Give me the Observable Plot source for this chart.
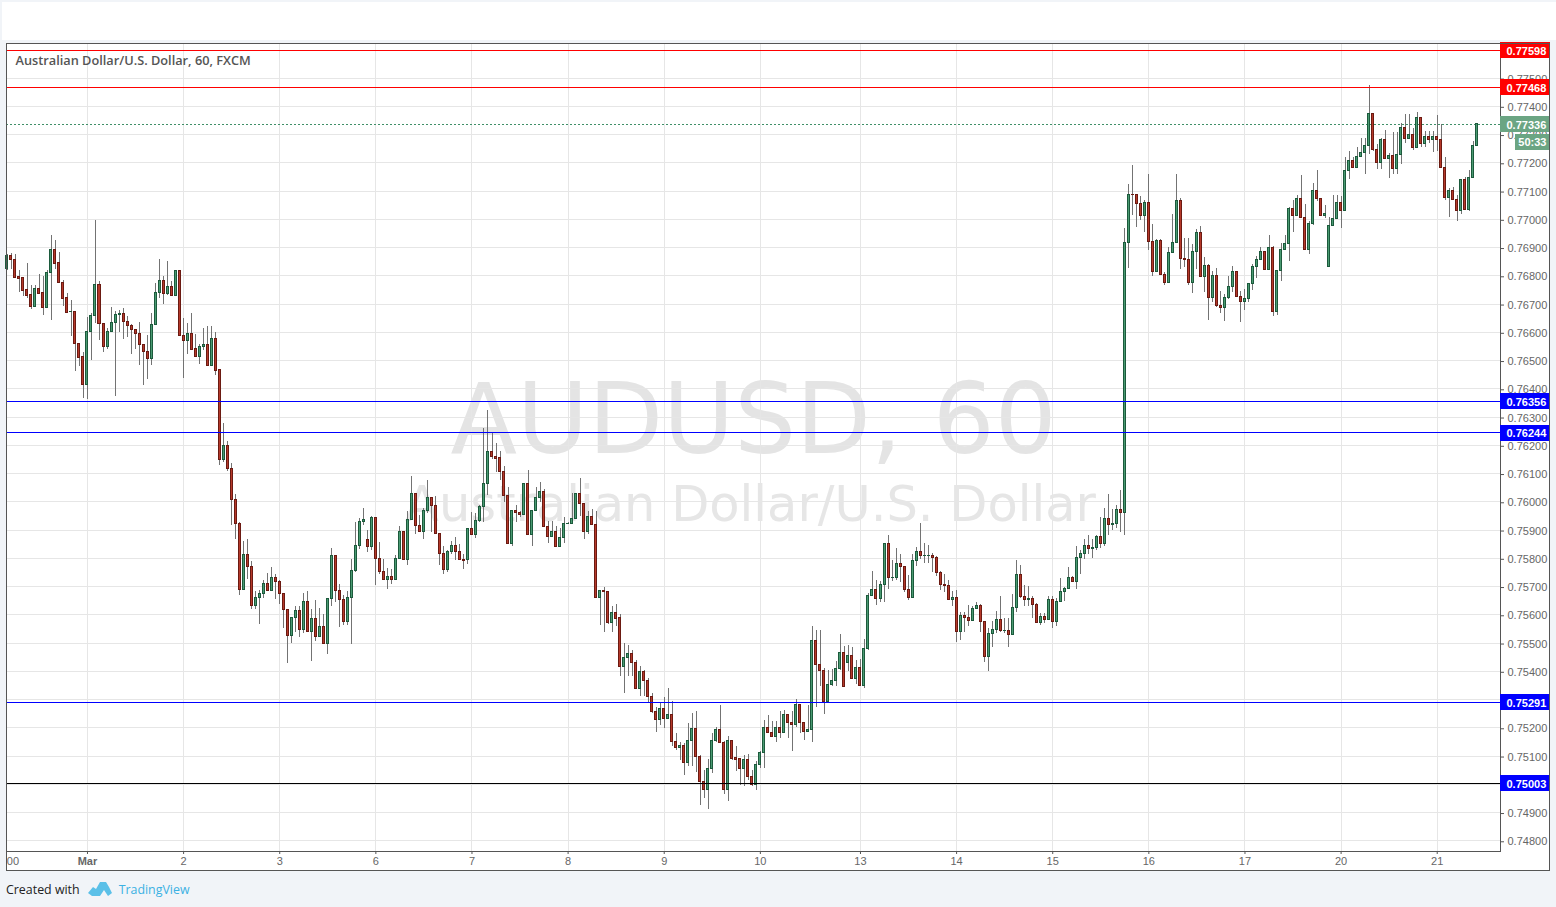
<!DOCTYPE html>
<html><head><meta charset="utf-8">
<script src="https://cdn.jsdelivr.net/npm/d3@7"></script>
<script src="https://cdn.jsdelivr.net/npm/@observablehq/plot@0.6"></script>
<style>
html,body{margin:0;padding:0;background:#f1f4f8;width:1556px;height:907px;overflow:hidden}
#band{position:absolute;left:2px;top:2px;width:1554px;height:38px;background:#fff}
#box{position:absolute;left:6px;top:43px;width:1544px;height:828px;background:#fff;outline:1px solid #555;outline-offset:-1px}
#box svg{display:block;background:transparent}
#foot{position:absolute;left:6px;top:880px;font:12.4px "Open Sans",sans-serif;color:#222;display:flex;align-items:center;height:18px;white-space:nowrap}
#foot svg{margin:0 7px 0 8px}
#foot a{color:#3bb1e3;text-decoration:none}
</style></head><body>
<div id="band"></div><div id="box"></div>
<div id="foot">Created with<svg width="24" height="16" viewBox="0 0 24 16"><path d="M0 12 L5 6 L8 8 L12 1 L18 1 L21 6 L24 12 L20 15 L16 9 L12 15 L4 15 Z" fill="#5bc0e8"/></svg><a>TradingView</a></div>
<script>
const opens=[76825,76869,76855,76795,76791,76748,76731,76691,76753,76738,
76687,76809,76893,76844,76773,76720,76671,76671,76557,76511,
76415,76600,76657,76766,76628,76547,76600,76632,76660,76664,
76635,76621,76607,76593,76554,76529,76504,76625,76738,76780,
76734,76759,76727,76816,76586,76568,76593,76540,76514,76547,
76554,76482,76575,76466,76147,76197,76116,76006,75921,75687,
75812,75769,75630,75660,75674,75709,75683,75730,75716,75673,
75617,75524,75589,75614,75546,75645,75539,75585,75522,75557,
75497,75656,75808,75684,75652,75573,75660,75755,75843,75928,
75865,75839,75942,75797,75752,75722,75735,75722,75797,75893,
75793,75935,76027,75914,75893,75967,76013,75985,75886,75815,
75759,75822,75843,75822,75794,75793,75903,75882,75932,75981,
76063,76176,76158,76155,76105,76020,75850,75967,75960,75952,
76063,75882,75967,76013,76034,75911,75875,75893,75840,75872,
75921,75921,75939,76027,75992,75893,75946,75918,75658,75686,
75679,75572,75608,75587,75416,75446,75460,75431,75336,75396,
75364,75308,75255,75226,75265,75230,75244,75148,75127,75134,
75074,75152,75194,75095,75007,74979,75053,75152,75191,75145,
74979,75152,75092,75088,75053,75085,75025,74996,75067,75110,
75198,75180,75166,75201,75180,75244,75216,75209,75279,75216,
75186,75191,75506,75424,75400,75293,75352,75366,75409,75465,
75431,75455,75373,75412,75347,75480,75667,75688,75656,75706,
75851,75730,75731,75780,75770,75688,75660,75791,75823,75808,
75808,75808,75801,75748,75706,75702,75653,75660,75540,75596,
75589,75579,75621,75632,75575,75451,75533,75547,75582,75543,
75543,75529,75625,75741,75663,75653,75656,75635,75571,75592,
75580,75652,75573,75645,75681,75691,75730,75715,75801,75815,
75843,75833,75836,75875,75850,75939,75918,75921,75971,75960,
76917,77087,77087,77055,77012,77059,76921,76815,76924,76804,
76776,76882,76917,77066,76861,76857,76776,76885,76953,76797,
76836,76723,76801,76694,76687,76723,76762,76815,76726,76709,
76719,76772,76832,76857,76885,76822,76900,76673,76818,76893,
76914,77037,77013,77073,77006,76893,76984,77101,77073,77013,
76832,76975,77000,77056,77030,77171,77208,77182,77219,77233,
77261,77371,77247,77198,77279,77212,77223,77177,77226,77322,
77286,77297,77251,77357,77268,77293,77279,77290,77279,77180,
77074,77099,77067,77028,77138,77034,77145,77261];
const closes=[76870,76855,76793,76790,76747,76730,76691,76753,76737,76687,
76809,76893,76843,76773,76719,76670,76673,76557,76510,76415,
76600,76657,76766,76628,76547,76600,76632,76660,76664,76635,
76621,76607,76593,76554,76529,76504,76625,76738,76780,76734,
76759,76727,76816,76586,76568,76593,76539,76514,76547,76554,
76482,76575,76464,76147,76197,76116,76006,75921,75687,75812,
75769,75630,75660,75674,75709,75683,75730,75715,75672,75616,
75524,75589,75614,75546,75645,75539,75585,75522,75557,75497,
75656,75808,75683,75652,75573,75660,75755,75843,75928,75935,
75840,75942,75797,75752,75722,75735,75722,75797,75893,75793,
75935,76027,75914,75893,75967,76013,75985,75886,75815,75759,
75822,75843,75821,75793,75791,75903,75882,75932,75981,76063,
76176,76158,76153,76104,76019,75850,75967,75959,75952,76063,
75882,75967,76013,76034,75911,75875,75893,75840,75872,75921,
75923,75939,76027,75992,75893,75946,75918,75658,75686,75679,
75572,75608,75586,75416,75446,75460,75431,75336,75396,75364,
75308,75255,75226,75265,75230,75244,75148,75127,75134,75074,
75152,75194,75095,75007,74979,75053,75152,75191,75145,74979,
75152,75091,75087,75053,75085,75025,74996,75067,75110,75198,
75180,75166,75201,75180,75244,75216,75209,75279,75216,75186,
75191,75506,75424,75400,75293,75352,75366,75409,75465,75345,
75455,75373,75412,75347,75480,75667,75688,75656,75706,75851,
75730,75731,75780,75770,75688,75660,75791,75823,75808,75809,
75809,75801,75748,75706,75701,75653,75660,75540,75596,75588,
75579,75621,75632,75575,75451,75533,75547,75582,75543,75544,
75529,75625,75741,75663,75653,75656,75635,75571,75592,75580,
75652,75573,75645,75681,75691,75730,75715,75801,75815,75843,
75833,75836,75875,75850,75939,75918,75921,75971,75960,76917,
77087,77085,77055,77012,77059,76921,76815,76924,76804,76776,
76882,76917,77066,76861,76857,76776,76885,76953,76797,76836,
76723,76801,76694,76687,76723,76762,76815,76726,76709,76719,
76772,76832,76857,76885,76822,76900,76673,76818,76893,76914,
77037,77013,77073,77006,76893,76984,77101,77073,77013,77020,
76975,77000,77056,77030,77171,77208,77182,77219,77233,77261,
77371,77247,77198,77279,77212,77223,77177,77226,77322,77286,
77297,77251,77357,77268,77293,77279,77290,77279,77180,77074,
77099,77067,77028,77138,77034,77145,77261,77336];
const highs=[76875,76880,76877,76818,76791,76845,76767,76767,76806,76796,
76817,76941,76926,76884,76785,76736,76714,76671,76557,76530,
76652,76668,76994,76781,76628,76614,76688,76672,76678,76685,
76656,76628,76611,76635,76554,76587,76668,76771,76858,76796,
76852,76781,76816,76816,76649,76632,76668,76591,76557,76612,
76619,76619,76598,76466,76278,76215,76137,76025,75925,75858,
75868,75787,75682,75685,75720,75745,75766,75741,75723,75677,
75617,75592,75628,75628,75674,75681,75617,75650,75621,75601,
75656,75836,75808,75709,75670,75684,75794,75928,75942,75978,
75898,75947,75942,75857,75794,75763,75762,75810,75914,75896,
75967,76091,76031,75953,75978,76077,76013,76017,75886,75841,
75829,75860,75872,75848,75813,75907,75962,75960,75986,76261,
76322,76247,76208,76179,76126,76052,75967,75988,75967,76066,
76111,75967,76049,76070,76045,75932,75930,75911,75904,75946,
75925,76031,76030,76084,75992,75967,75974,75967,75687,75697,
75679,75631,75638,75601,75499,75493,75474,75438,75417,75404,
75375,75322,75272,75290,75308,75339,75293,75180,75148,75145,
75216,75251,75258,75102,75049,75088,75180,75202,75279,75152,
75170,75152,75134,75088,75102,75106,75049,75081,75117,75226,
75242,75223,75223,75259,75262,75248,75258,75301,75283,75216,
75279,75559,75543,75546,75410,75404,75406,75435,75529,75488,
75490,75483,75437,75441,75511,75674,75755,75720,75717,75854,
75879,75791,75833,75812,75770,75738,75812,75837,75922,75854,
75847,75816,75805,75752,75741,75720,75681,75685,75607,75607,
75633,75628,75642,75636,75575,75550,75575,75610,75663,75586,
75586,75671,75791,75774,75702,75699,75663,75639,75603,75603,
75663,75663,75659,75727,75698,75769,75737,75841,75829,75865,
75880,75868,75882,75946,75978,76027,75971,75988,76041,76967,
77124,77191,77087,77080,77066,77159,76981,76928,76928,76811,
76900,77016,77159,77073,76931,76931,76910,76963,76974,76864,
76839,76815,76825,76744,76733,76797,76832,76815,76744,76751,
76772,76839,76868,76900,76885,76942,76903,76818,76914,76942,
77041,77066,77084,77155,77052,76992,77127,77173,77073,77048,
77007,77085,77085,77080,77219,77241,77219,77254,77286,77286,
77475,77371,77265,77286,77316,77233,77307,77307,77339,77371,
77371,77322,77378,77357,77311,77311,77311,77368,77336,77219,
77109,77113,77085,77138,77148,77173,77275,77336];
const lows=[76820,76822,76793,76740,76726,76719,76680,76691,76737,76659,
76687,76641,76822,76773,76693,76666,76585,76461,76478,76365,
76362,76500,76631,76570,76528,76539,76600,76372,76601,76574,
76581,76521,76539,76482,76411,76432,76482,76625,76720,76698,
76731,76727,76727,76586,76436,76522,76535,76514,76486,76534,
76482,76482,76447,76128,76138,76109,75917,75868,75669,75687,
75724,75619,75619,75566,75657,75681,75681,75654,75637,75552,
75428,75499,75538,75520,75534,75539,75435,75506,75522,75497,
75460,75628,75642,75556,75563,75563,75496,75748,75832,75915,
75821,75828,75704,75741,75722,75690,75708,75722,75797,75793,
75775,75935,75886,75893,75866,75960,75893,75886,75775,75744,
75748,75815,75792,75793,75761,75777,75882,75869,75925,75925,
76023,76151,76104,76076,75996,75850,75840,75928,75945,75952,
75882,75842,75967,75996,75911,75852,75875,75840,75840,75854,
75919,75921,75939,75948,75868,75886,75918,75658,75561,75536,
75566,75539,75558,75383,75321,75383,75383,75336,75312,75312,
75290,75251,75184,75209,75198,75230,75133,75120,75085,75031,
75064,75064,75041,74924,74949,74911,75039,75148,75145,74965,
74939,75085,75046,74996,74993,75014,74993,74979,75056,75056,
75180,75166,75148,75163,75180,75163,75115,75202,75180,75155,
75184,75148,75272,75345,75248,75290,75347,75347,75404,75345,
75398,75373,75355,75347,75340,75472,75663,75634,75642,75645,
75691,75719,75720,75713,75678,75649,75660,75770,75794,75780,
75780,75748,75734,75685,75678,75653,75630,75501,75508,75536,
75560,75579,75621,75538,75432,75401,75483,75533,75536,75533,
75485,75526,75607,75656,75628,75630,75587,75571,75563,75568,
75580,75550,75559,75645,75648,75688,75715,75688,75743,75794,
75815,75799,75828,75836,75843,75882,75899,75907,75893,75881,
76825,77012,76970,76995,76955,76888,76798,76815,76804,76764,
76776,76882,76917,76821,76828,76764,76737,76821,76797,76740,
76641,76705,76689,76666,76637,76716,76740,76726,76634,76676,
76705,76747,76790,76857,76818,76822,76656,76659,76779,76893,
76849,76953,77013,77006,76889,76875,76977,77062,77013,77004,
76832,76975,77000,76966,77030,77141,77182,77179,77219,77159,
77230,77240,77177,77177,77212,77145,77159,77159,77194,77268,
77286,77244,77251,77254,77254,77268,77237,77240,77180,77067,
77007,77067,76993,77017,77032,77028,77145,77261];

const firstHour=-20;               // hours relative to 1 March 00:00
const dayHours=[0,24,48,72,96,120,144,168,193,217,241,265,289,313,337];
const dayLabels=["Mar","2","3","6","7","8","9","10","13","14","15","16","17","20","21"];
const priceTicks=d3.range(74800,77501,100);
const levelPrices=[77598,77468,76356,76244,75291,75003];
const levelLines=["#ff0000","#ff0000","#0000ff","#0000ff","#0000ff","#000000"];
const levelTags=["#ff0000","#ff0000","#0000ff","#0000ff","#0000ff","#0000ff"];
const lastPrice=77336, countdownPrice=77274;

const scale=1e5;
const candles=opens.map((o,i)=>({k:i+firstHour,o:o/scale,c:closes[i]/scale,h:highs[i]/scale,l:lows[i]/scale,up:closes[i]>=o}));
const days=dayHours.map((k,i)=>({k,label:dayLabels[i]}));
const levels=levelPrices.map((p,i)=>({y:p/scale,line:levelLines[i],tag:levelTags[i],t:(p/scale).toFixed(5)}));
const xMin=-20.22,xMax=352.8,xTag=365.3,xClock=356.5;
const font="'Liberation Sans',Arial,sans-serif";
const GREEN="#4a9a72",GREENB="#1c5a3c",RED="#b5392a",REDB="#6b1a12",GRID="#e6e6e6",TAGG="#6ba583";
const crisp={shapeRendering:"crispEdges"};

const chart=Plot.plot({
  width:1544,height:827,marginLeft:0,marginRight:50,marginTop:0,marginBottom:19,
  style:{background:"transparent",overflow:"visible",fontFamily:font},
  x:{domain:[xMin,xMax],axis:null},
  y:{domain:[0.747621,0.776223],axis:null},
  marks:[
    Plot.text(["AUDUSD, 60"],{frameAnchor:"middle",dx:0,dy:-26,fontSize:97.3,fill:"#e4e4e4",fontFamily:"'DejaVu Sans',sans-serif"}),
    Plot.text(["Australian Dollar/U.S. Dollar"],{frameAnchor:"middle",dx:-3,dy:57.2,fontSize:49.5,fill:"#e6e6e6",fontFamily:"'DejaVu Sans',sans-serif"}),
    Plot.ruleY(priceTicks,{y:d=>d/scale,stroke:GRID,strokeWidth:1,...crisp}),
    Plot.ruleX(days,{x:"k",stroke:GRID,strokeWidth:1,...crisp}),
    Plot.ruleY([lastPrice/scale],{x1:xMin,x2:xMax,stroke:"#3f8f68",strokeWidth:1,strokeDasharray:"2,2",...crisp}),
    Plot.ruleX(candles,{x:"k",y1:"l",y2:"h",stroke:"#737373",strokeWidth:1,...crisp}),
    Plot.rect(candles,{x1:d=>d.k-0.25,x2:d=>d.k+0.25,y1:"o",y2:"c",fill:d=>d.up?GREEN:RED,stroke:d=>d.up?GREENB:REDB,strokeWidth:1,...crisp}),
    Plot.ruleY(levels,{y:"y",x1:xMin,x2:xMax,stroke:"line",strokeWidth:1,...crisp}),
    Plot.frame({anchor:"bottom",stroke:"#555",strokeWidth:1,...crisp}),
    Plot.frame({anchor:"right",stroke:"#555",strokeWidth:1,...crisp}),
    Plot.axisY(priceTicks.map(d=>d/scale),{anchor:"right",tickSize:3,tickPadding:4,tickFormat:d=>d.toFixed(5),fontSize:11,color:"#666",stroke:"#555",label:null,dy:1}),
    Plot.axisX(dayHours,{anchor:"bottom",tickSize:3,tickFormat:()=>"",color:"#555",label:null}),
    Plot.text(days.filter(d=>d.label!=="Mar"),{x:"k",text:"label",frameAnchor:"bottom",dy:13,fontSize:11,fill:"#666",fontFamily:font}),
    Plot.text(days.filter(d=>d.label==="Mar"),{x:"k",text:"label",frameAnchor:"bottom",dy:13,fontSize:11,fontWeight:"bold",fill:"#666",fontFamily:font}),
    Plot.text(["00"],{x:[-18.6],frameAnchor:"bottom",dy:13,fontSize:11,fill:"#666",fontFamily:font}),
    Plot.text(["Australian Dollar/U.S. Dollar, 60, FXCM"],{frameAnchor:"top-left",dx:9,dy:11,fontSize:12.75,fontWeight:600,fill:"#555",fontFamily:"'Open Sans',sans-serif",lineHeight:1.2}),
    Plot.ruleY(levels,{y:"y",x1:xMax,x2:xTag,stroke:"tag",strokeWidth:16,...crisp}),
    Plot.text(levels,{x:xMax,y:"y",text:"t",textAnchor:"start",dx:6,dy:1,fill:"#fff",fontWeight:"bold",fontSize:11,fontFamily:font}),
    Plot.ruleY([lastPrice/scale],{x1:xMax,x2:xTag,stroke:TAGG,strokeWidth:16,...crisp}),
    Plot.ruleY([countdownPrice/scale],{x1:xClock,x2:xTag,stroke:TAGG,strokeWidth:16,...crisp}),
    Plot.text([lastPrice],{x:[xMax],y:d=>d/scale,text:d=>(d/scale).toFixed(5),textAnchor:"start",dx:6,dy:1,fill:"#fff",fontWeight:"bold",fontSize:11,fontFamily:font}),
    Plot.text(["50:33"],{x:[xClock],y:[countdownPrice/scale],textAnchor:"start",dx:3,dy:1,fill:"#fff",fontWeight:"bold",fontSize:11,fontFamily:font})
  ]
});
document.getElementById("box").appendChild(chart);
</script></body></html>
